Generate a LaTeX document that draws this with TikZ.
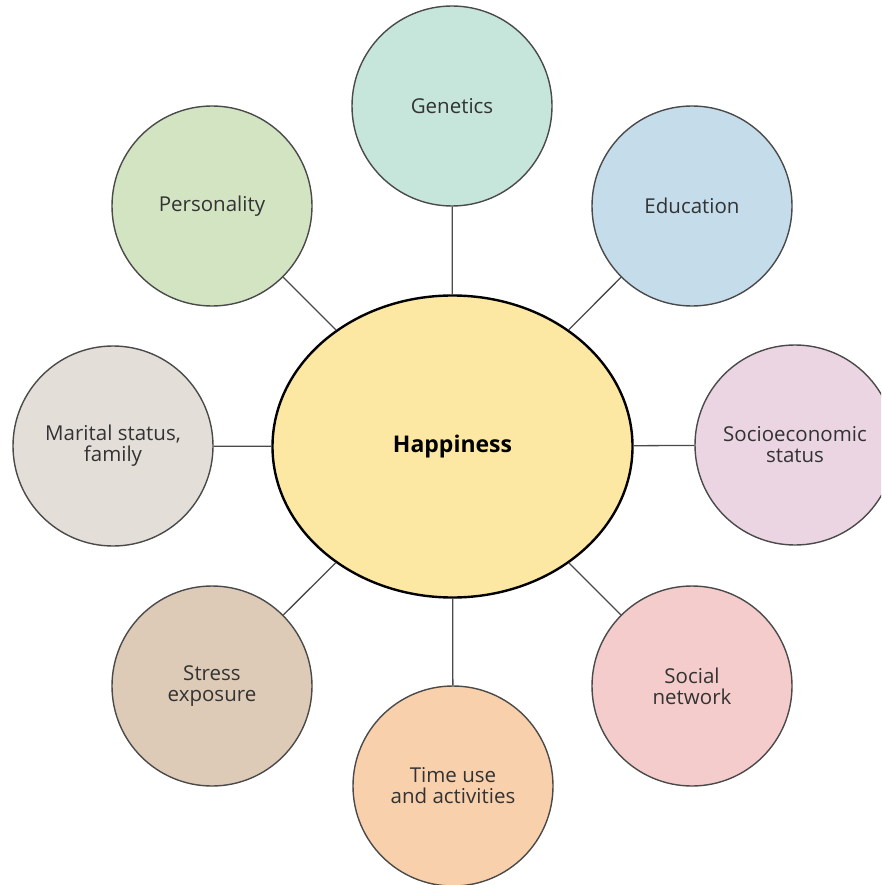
\documentclass[tikz,border=0pt]{standalone}
\usepackage{fontspec}
\setmainfont{Open Sans}
\usetikzlibrary{shapes.geometric}

\definecolor{strokegray}{HTML}{4A4A4A}
\definecolor{labelgray}{HTML}{333333}
\definecolor{fillgen}{HTML}{C6E5DB}
\definecolor{filledu}{HTML}{C5DDEB}
\definecolor{fillses}{HTML}{EBD5E2}
\definecolor{fillsoc}{HTML}{F4CCCB}
\definecolor{filltime}{HTML}{F9D0AC}
\definecolor{fillstress}{HTML}{DDCBB8}
\definecolor{fillmar}{HTML}{E4DED9}
\definecolor{fillpers}{HTML}{D2E4C2}
\definecolor{fillhappy}{HTML}{FDE8A3}

\tikzset{
  factor/.style={circle, draw=strokegray, line width=1.4pt, minimum size=200pt,
    inner sep=0pt, align=center, text=labelgray,
    font=\fontsize{20.5}{21}\selectfont},
  hub/.style={ellipse, draw=black, line width=2.4pt, minimum width=360pt,
    minimum height=302pt, inner sep=0pt, fill=fillhappy,
    font=\fontsize{23}{26}\selectfont\bfseries},
  link/.style={draw=strokegray, line width=1.3pt}
}

\begin{document}
\begin{tikzpicture}[x=1pt,y=-1pt]
  \useasboundingbox (0,0) rectangle (881,885);
  \clip (0,0) rectangle (881,885);

  % central outcome
  \node[hub] (happy) at (452.5,446.5) {Happiness};

  % surrounding factors, one every 45 degrees
  \node[factor, fill=fillgen]    (gen)    at (452,106) {Genetics};
  \node[factor, fill=filledu]    (edu)    at (692,206) {Education};
  \node[factor, fill=fillses]    (ses)    at (795,445) {Socioeconomic\\status};
  \node[factor, fill=fillsoc]    (soc)    at (692,686) {Social\\network};
  \node[factor, fill=filltime]   (time)   at (453,786) {Time use\\and activities};
  \node[factor, fill=fillstress] (stress) at (212,686) {Stress\\exposure};
  \node[factor, fill=fillmar]    (mar)    at (113,446) {Marital status,\\family};
  \node[factor, fill=fillpers]   (pers)   at (212,206) {Personality};

  % spokes
  \foreach \f in {gen,edu,ses,soc,time,stress,mar,pers}
    \draw[link] (happy) -- (\f);
\end{tikzpicture}
\end{document}
